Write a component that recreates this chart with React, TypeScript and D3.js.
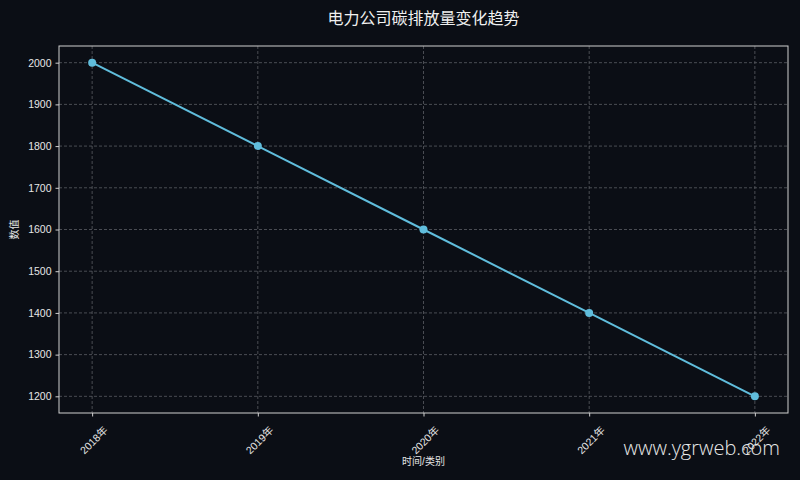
import React, { useEffect, useRef } from 'react';
import * as d3 from 'd3';

const years = ['2018年', '2019年', '2020年', '2021年', '2022年'];
const emissions = [2000, 1800, 1600, 1400, 1200];
const yTicks = [1200, 1300, 1400, 1500, 1600, 1700, 1800, 1900, 2000];

const W = 800;
const H = 480;
const BG = '#0b0e15';
const FONT = '"Liberation Sans", "Noto Sans CJK SC", sans-serif';

const App: React.FC = () => {
  const svgRef = useRef<SVGSVGElement>(null);

  useEffect(() => {
    if (!svgRef.current) return;
    const svg = d3.select(svgRef.current);
    svg.selectAll('*').remove();

    const left = 59, right = 788, top = 46, bottom = 413;

    svg.append('rect').attr('width', W).attr('height', H).attr('fill', BG);

    const x = d3.scalePoint<string>().domain(years).range([left, right]).padding(0.2);
    const y = d3.scaleLinear().domain([1160, 2040]).range([bottom, top]);

    // grid
    const grid = svg.append('g');
    yTicks.forEach(t => {
      grid.append('line')
        .attr('x1', left).attr('x2', right)
        .attr('y1', y(t)).attr('y2', y(t))
        .attr('stroke', '#5a5d63').attr('stroke-width', 0.8)
        .attr('stroke-dasharray', '3,2');
    });
    years.forEach(c => {
      grid.append('line')
        .attr('x1', x(c)!).attr('x2', x(c)!)
        .attr('y1', top).attr('y2', bottom)
        .attr('stroke', '#5a5d63').attr('stroke-width', 0.8)
        .attr('stroke-dasharray', '3,2');
    });

    // axes
    const yAxis = svg.append('g')
      .attr('transform', `translate(${left},0)`)
      .call(d3.axisLeft(y).tickValues(yTicks).tickSize(3.5).tickPadding(4).tickFormat(d3.format('d')));
    yAxis.select('.domain').remove();
    yAxis.selectAll('line').attr('stroke', '#d0d0d0');
    yAxis.selectAll('text').attr('fill', '#e6e6e6').style('font-size', '10.5px').style('font-family', FONT);

    const xAxis = svg.append('g')
      .attr('transform', `translate(0,${bottom})`)
      .call(d3.axisBottom(x).tickSize(3.5).tickPadding(4));
    xAxis.select('.domain').remove();
    xAxis.selectAll('line').attr('stroke', '#d0d0d0');
    xAxis.selectAll('text')
      .attr('fill', '#e6e6e6').style('font-size', '10.5px').style('font-family', FONT)
      .attr('text-anchor', 'end')
      .attr('dy', '0.35em')
      .attr('transform', 'translate(8,10) rotate(-45)');

    // frame
    svg.append('rect')
      .attr('x', left).attr('y', top)
      .attr('width', right - left).attr('height', bottom - top)
      .attr('fill', 'none').attr('stroke', '#d0d0d0').attr('stroke-width', 1);

    // line
    const line = d3.line<number>()
      .x((_, i) => x(years[i])!)
      .y(d => y(d));
    svg.append('path')
      .datum(emissions)
      .attr('d', line)
      .attr('fill', 'none')
      .attr('stroke', '#60bddc')
      .attr('stroke-width', 2);

    svg.selectAll('.pt')
      .data(emissions)
      .enter()
      .append('circle')
      .attr('cx', (_, i) => x(years[i])!)
      .attr('cy', d => y(d))
      .attr('r', 4)
      .attr('fill', '#60bddc');

    // labels
    svg.append('text')
      .attr('x', (left + right) / 2).attr('y', 24)
      .attr('text-anchor', 'middle')
      .attr('fill', '#f0f0f0')
      .style('font-size', '16px').style('font-family', FONT)
      .text('电力公司碳排放量变化趋势');

    svg.append('text')
      .attr('x', (left + right) / 2).attr('y', 465)
      .attr('text-anchor', 'middle')
      .attr('fill', '#e6e6e6')
      .style('font-size', '10px').style('font-family', FONT)
      .text('时间/类别');

    svg.append('text')
      .attr('transform', `translate(18,${(top + bottom) / 2}) rotate(-90)`)
      .attr('text-anchor', 'middle')
      .attr('fill', '#e6e6e6')
      .style('font-size', '10px').style('font-family', FONT)
      .text('数值');

    svg.append('text')
      .attr('x', 780).attr('y', 455)
      .attr('text-anchor', 'end')
      .attr('fill', '#e8e8e8')
      .style('font-size', '20px').style('font-weight', 300)
      .style('font-family', '"Open Sans", "Noto Sans", sans-serif')
      .text('www.ygrweb.com');
  }, []);

  return <svg ref={svgRef} width={W} height={H} style={{ display: 'block', position: 'absolute', left: 0, top: 0 }} />;
};

export default App;
